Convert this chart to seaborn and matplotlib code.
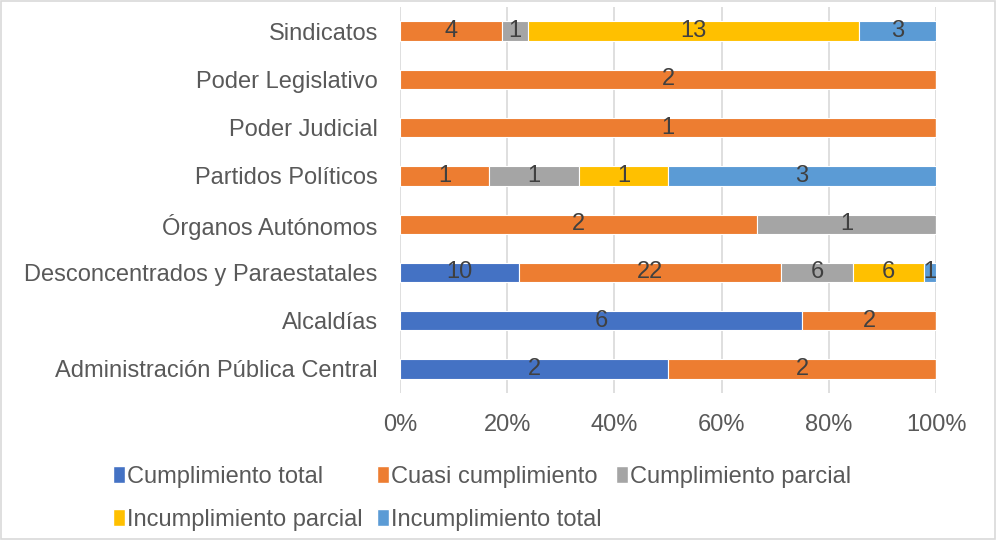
import numpy as np
import pandas as pd
import matplotlib.pyplot as plt
import seaborn as sns
from matplotlib.patches import Rectangle, Patch

# ===============================
# Data
# ===============================

categories = [
    "Sindicatos",
    "Poder Legislativo",
    "Poder Judicial",
    "Partidos Políticos",
    "Órganos Autónomos",
    "Desconcentrados y Paraestatales",
    "Alcaldías",
    "Administración Pública Central",
]

series_names = [
    "Cumplimiento total",
    "Cuasi cumplimiento",
    "Cumplimiento parcial",
    "Incumplimiento parcial",
    "Incumplimiento total",
]

cumplimiento_total = [0, 0, 0, 0, 0, 10, 6, 2]
cuasi_cumplimiento = [4, 2, 1, 1, 2, 22, 2, 2]
cumplimiento_parcial = [1, 0, 0, 1, 1, 6, 0, 0]
incumplimiento_parcial = [13, 0, 0, 1, 0, 6, 0, 0]
incumplimiento_total = [3, 0, 0, 3, 0, 1, 0, 0]

colors = ["#4472C4", "#ED7D31", "#A5A5A5", "#FFC000", "#5B9BD5"]
tick_labels = ["0%", "20%", "40%", "60%", "80%", "100%"]

# ===============================
# Prepare percentages
# ===============================

counts = np.array([
    cumplimiento_total,
    cuasi_cumplimiento,
    cumplimiento_parcial,
    incumplimiento_parcial,
    incumplimiento_total,
], dtype=float)

totals = counts.sum(axis=0)
pct = counts / totals
lefts = np.vstack([np.zeros(len(categories)), np.cumsum(pct, axis=0)[:-1]])

# ===============================
# Plot
# ===============================

sns.set_style("white")
plt.rcParams["font.family"] = ["Liberation Sans", "DejaVu Sans"]
text_color = "#595959"
fs = 17

fig = plt.figure(figsize=(9.96, 5.4), dpi=100)
ax = fig.add_axes([0.4016, 0.272, 0.5382, 0.715])

for i, name in enumerate(series_names):
    df = pd.DataFrame({"cat": categories, "val": pct[i]})
    sns.barplot(
        data=df, x="val", y="cat", order=categories,
        color=colors[i], width=0.4, left=lefts[i],
        edgecolor="white", linewidth=0.8, saturation=1, ax=ax,
    )
    container = ax.containers[-1]
    labels = [f"{int(v)}" if v > 0 else "" for v in counts[i]]
    ax.bar_label(container, labels=labels, label_type="center",
                 fontsize=fs, color="#404040")

ax.set_xlim(0, 1)
ax.set_xticks(np.linspace(0, 1, 6))
ax.set_xticklabels(tick_labels)
ax.set_xlabel("")
ax.set_ylabel("")
ax.grid(axis="x", color="#d9d9d9", linewidth=1.2)
ax.set_axisbelow(True)
for s in ax.spines.values():
    s.set_visible(False)
ax.tick_params(axis="both", length=0, labelsize=fs, colors=text_color)
ax.tick_params(axis="y", pad=16)
ax.tick_params(axis="x", pad=15)

# legend, reordered so it reads row by row
handles = [Patch(facecolor=c) for c in colors]
order = [0, 3, 1, 4, 2]
fig.legend(
    [handles[k] for k in order], [series_names[k] for k in order],
    ncol=3, loc="upper left", bbox_to_anchor=(0.1135, 0.137),
    frameon=False, fontsize=fs, labelcolor=text_color,
    borderpad=0, borderaxespad=0,
    handlelength=0.5, handleheight=0.75, handletextpad=0.1,
    columnspacing=0.6, labelspacing=0.89,
)

# light border round the figure
fig.patches.append(Rectangle((0.001, 0.001), 0.998, 0.998, transform=fig.transFigure,
                             fill=False, edgecolor="#d9d9d9", linewidth=1.2))

plt.savefig("out.png", dpi=100)
